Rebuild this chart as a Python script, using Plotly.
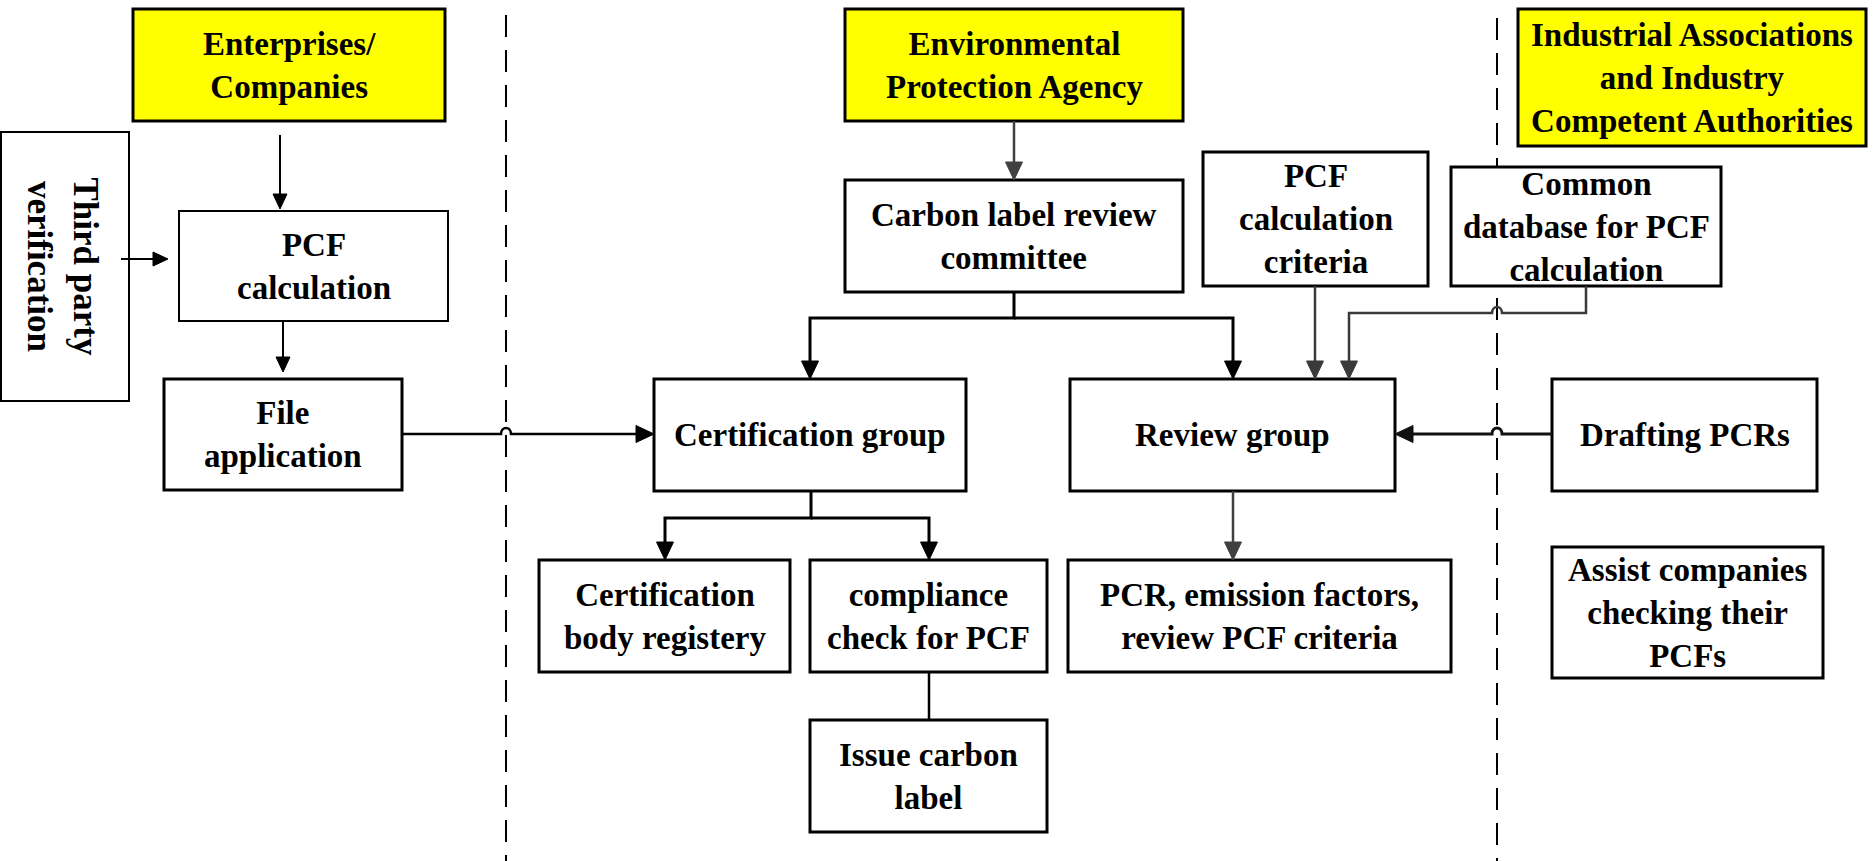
import plotly.graph_objects as go

# ---------------- data ----------------
node_ids = ["ent", "epa", "ind", "third", "pcf", "file", "crc", "cert", "review",
            "criteria", "db", "draft", "cbr", "comp", "issue", "pcr", "assist"]
node_labels = [
    "Enterprises/<br>Companies",
    "Environmental<br>Protection Agency",
    "Industrial Associations<br>and Industry<br>Competent Authorities",
    "Third party<br>verification",
    "PCF<br>calculation",
    "File<br>application",
    "Carbon label review<br>committee",
    "Certification group",
    "Review group",
    "PCF<br>calculation<br>criteria",
    "Common<br>database for PCF<br>calculation",
    "Drafting PCRs",
    "Certification<br>body registery",
    "compliance<br>check for PCF",
    "Issue carbon<br>label",
    "PCR, emission factors,<br>review PCF criteria",
    "Assist companies<br>checking their<br>PCFs",
]
header_nodes = ["ent", "epa", "ind"]
edges = [("ent", "pcf"), ("third", "pcf"), ("pcf", "file"), ("file", "cert"),
         ("epa", "crc"), ("crc", "cert"), ("crc", "review"), ("criteria", "review"),
         ("db", "review"), ("draft", "review"), ("cert", "cbr"), ("cert", "comp"),
         ("comp", "issue"), ("review", "pcr")]

# ---------------- layout (pixel positions) ----------------
W, H = 1876, 861
BOX = {
    "ent": (133, 9, 445, 121),
    "epa": (845, 9, 1183, 121),
    "ind": (1518, 9, 1866, 146),
    "third": (1, 132, 129, 401),
    "pcf": (179, 211, 448, 321),
    "file": (164, 379, 402, 490),
    "crc": (845, 180, 1183, 292),
    "cert": (654, 379, 966, 491),
    "review": (1070, 379, 1395, 491),
    "criteria": (1203, 152, 1428, 286),
    "db": (1451, 167, 1721, 286),
    "draft": (1552, 379, 1817, 491),
    "cbr": (539, 560, 790, 672),
    "comp": (810, 560, 1047, 672),
    "issue": (810, 720, 1047, 832),
    "pcr": (1068, 560, 1451, 672),
    "assist": (1552, 547, 1823, 678),
}
THIN_BORDER = ["third", "pcf"]
DIVIDERS = [(506, 15), (1497, 18)]  # x, top y

# route waypoints, arrow size ("s", "l" or None), colour, width
ROUTES = {
    ("ent", "pcf"): ([(280, 135), (280, 209)], "s", "#000000", 2),
    ("third", "pcf"): ([(121, 259), (168, 259)], "s", "#000000", 2),
    ("pcf", "file"): ([(283, 321), (283, 372)], "s", "#000000", 2),
    ("file", "cert"): ([(402, 434), (654, 434)], "l", "#000000", 2.5),
    ("epa", "crc"): ([(1014, 121), (1014, 180)], "l", "#404040", 2.5),
    ("crc", "cert"): ([(1014, 292), (1014, 318), (810, 318), (810, 379)], "l", "#000000", 3),
    ("crc", "review"): ([(1014, 318), (1233, 318), (1233, 379)], "l", "#000000", 3),
    ("criteria", "review"): ([(1315, 286), (1315, 379)], "l", "#3a3a3a", 2.5),
    ("db", "review"): ([(1586, 286), (1586, 313), (1349, 313), (1349, 379)], "l", "#3a3a3a", 2.5),
    ("draft", "review"): ([(1552, 434), (1395, 434)], "l", "#111111", 3),
    ("cert", "cbr"): ([(811, 491), (811, 518), (665, 518), (665, 560)], "l", "#000000", 3),
    ("cert", "comp"): ([(811, 518), (929, 518), (929, 560)], "l", "#000000", 3),
    ("comp", "issue"): ([(929, 672), (929, 720)], None, "#000000", 2.5),
    ("review", "pcr"): ([(1233, 491), (1233, 560)], "l", "#404040", 2.5),
}
ARROW = {"s": (15, 14), "l": (18, 17)}
FONT = "Liberation Serif, Times New Roman, serif"

fig = go.Figure()
div_shapes, box_shapes, conn_shapes = [], [], []
annotations = []

# dashed dividers
for x, top in DIVIDERS:
    div_shapes.append(dict(type="line", x0=x, x1=x, y0=top, y1=H, xref="x", yref="y",
                           line=dict(color="#000000", width=2, dash="22px,13px")))


def build_path(pts, hop_r=5, hop_h=8):
    d = "M %g,%g" % pts[0]
    for (xa, ya), (xb, yb) in zip(pts[:-1], pts[1:]):
        if ya == yb and xa != xb:
            s = 1 if xb > xa else -1
            crossings = [x for x, _ in DIVIDERS if min(xa, xb) + hop_r < x < max(xa, xb) - hop_r]
            crossings.sort(reverse=(s < 0))
            for xd in crossings:
                d += " L %g,%g" % (xd - s * hop_r, ya)
                d += " C %g,%g %g,%g %g,%g" % (xd - s * hop_r, ya - hop_h,
                                               xd + s * hop_r, ya - hop_h,
                                               xd + s * hop_r, ya)
        d += " L %g,%g" % (xb, yb)
    return d


# connectors
for e in edges:
    pts, arr, col, lw = ROUTES[e]
    pts = list(pts)
    if arr:
        L, Wd = ARROW[arr]
        (xa, ya), (xb, yb) = pts[-2], pts[-1]
        dx, dy = xb - xa, yb - ya
        n = (dx * dx + dy * dy) ** 0.5
        ux, uy = dx / n, dy / n
        px, py = -uy, ux
        bx, by = xb - L * ux, yb - L * uy
        pts[-1] = (bx + ux * 2, by + uy * 2)
        conn_shapes.append(dict(type="path", xref="x", yref="y",
                                path=build_path(pts), line=dict(color=col, width=lw)))
        tri = "M %g,%g L %g,%g L %g,%g Z" % (xb, yb, bx + px * Wd / 2, by + py * Wd / 2,
                                             bx - px * Wd / 2, by - py * Wd / 2)
        conn_shapes.append(dict(type="path", xref="x", yref="y", path=tri,
                                fillcolor=col, line=dict(color=col, width=1)))
    else:
        conn_shapes.append(dict(type="path", xref="x", yref="y",
                                path=build_path(pts), line=dict(color=col, width=lw)))

# boxes and labels
for nid, label in zip(node_ids, node_labels):
    x0, y0, x1, y1 = BOX[nid]
    header = nid in header_nodes
    bw = 2 if nid in THIN_BORDER else 3
    box_shapes.append(dict(type="rect", xref="x", yref="y", x0=x0, y0=y0, x1=x1, y1=y1,
                           fillcolor="#FFFF00" if header else "#FFFFFF",
                           line=dict(color="#000000", width=bw)))
    rot = 90 if nid == "third" else 0
    annotations.append(dict(x=(x0 + x1) / 2 + (-3 if rot else 0), y=(y0 + y1) / 2,
                            xref="x", yref="y", text="<b>%s</b>" % label,
                            showarrow=False, textangle=rot,
                            xanchor="center", yanchor="middle", align="center",
                            font=dict(family=FONT, size=35 if rot else 33, color="#000000")))

fig.update_layout(shapes=div_shapes + box_shapes + conn_shapes, annotations=annotations)

fig.update_layout(
    width=W, height=H,
    margin=dict(l=0, r=0, t=0, b=0),
    paper_bgcolor="#FFFFFF", plot_bgcolor="#FFFFFF",
    xaxis=dict(range=[0, W], visible=False, fixedrange=True),
    yaxis=dict(range=[H, 0], visible=False, fixedrange=True),
    showlegend=False,
)
fig.write_html("out.html", config={"displayModeBar": False},
               post_script="document.body.style.margin='0';document.body.style.overflow='hidden';")
